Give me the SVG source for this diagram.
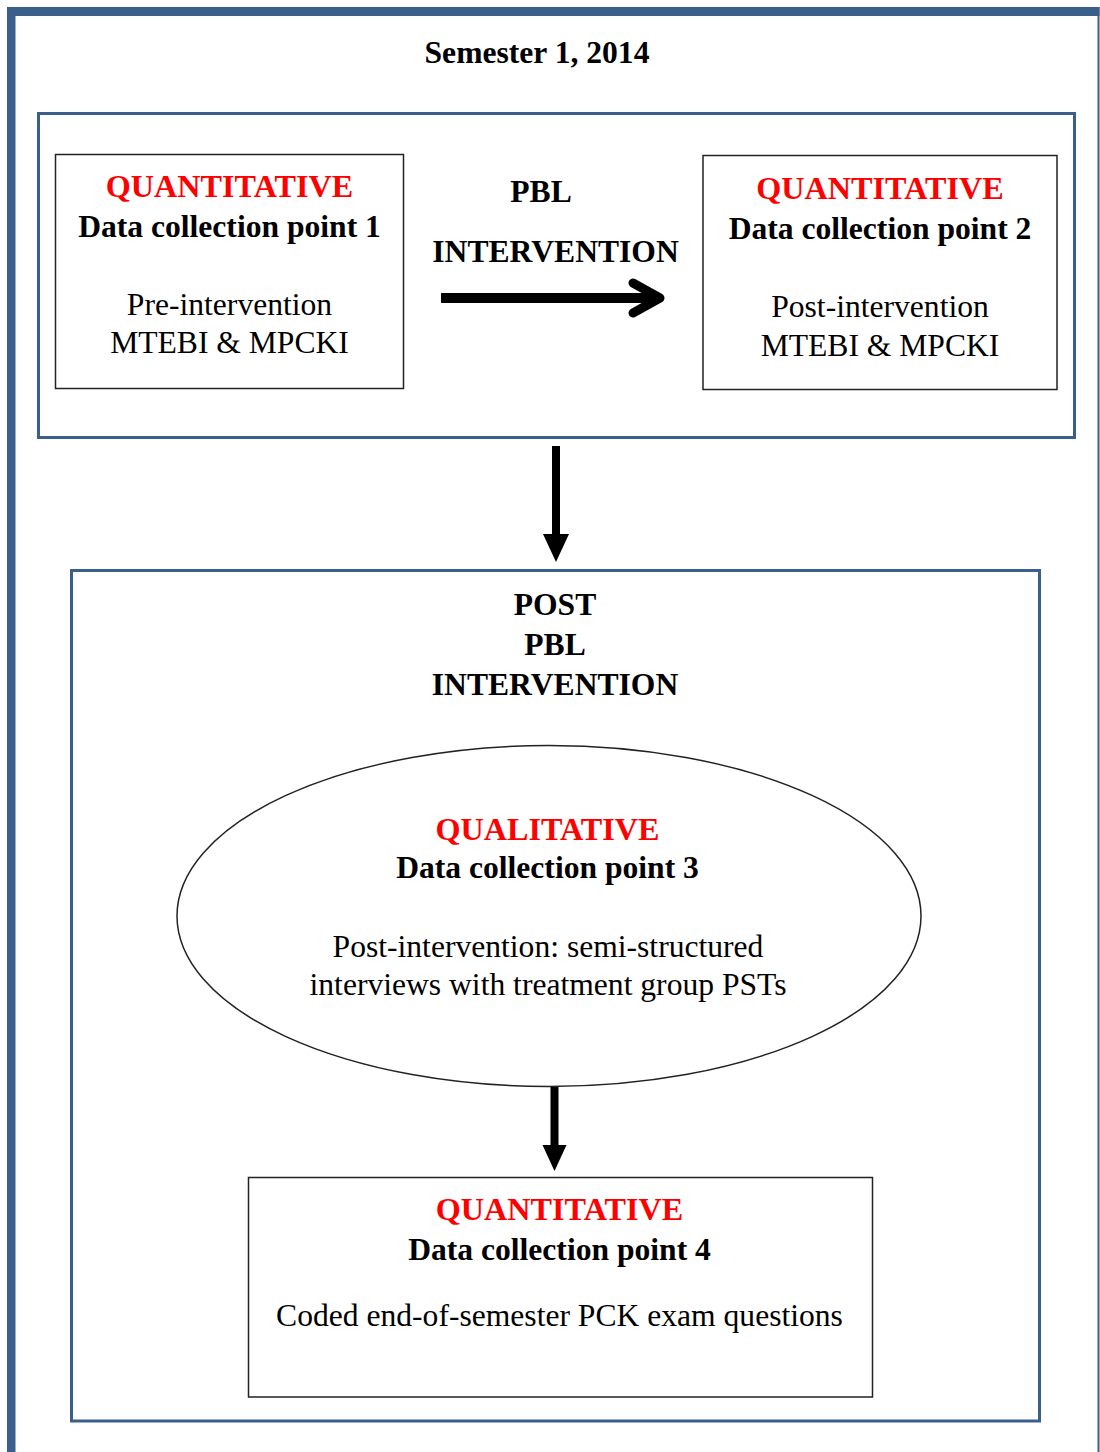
<svg xmlns="http://www.w3.org/2000/svg" width="1100" height="1452" viewBox="0 0 1100 1452">
<style>
.t{font-family:"Liberation Serif","Times New Roman",serif;font-size:31.6px;text-anchor:middle;fill:#000}
.b{font-weight:bold}
.r{fill:#ff0000;font-weight:bold;font-size:32.2px}
.frame{fill:none;stroke:#3a5f8b;stroke-width:3}
.box{fill:#fff;stroke:#222;stroke-width:1.5}
</style>
<rect width="1100" height="1452" fill="#fff"/>
<g id="outer-frame">
<rect x="7" y="7" width="8.5" height="1445" fill="#3a5f8b"/>
<rect x="7" y="7" width="1092.5" height="9" fill="#3a5f8b"/>
<rect x="1097.5" y="7" width="2" height="1445" fill="#3a5f8b"/>
<text class="t b" x="537" y="63">Semester 1, 2014</text>
</g>
<g id="pre-group">
<rect class="frame" x="38.5" y="113.5" width="1036" height="324"/>
</g>
<g id="node1">
<rect class="box" x="55.5" y="154.5" width="348" height="234"/>
<text class="t r" x="229.5" y="197">QUANTITATIVE</text>
<text class="t b" x="229.5" y="237">Data collection point 1</text>
<text class="t" x="229.5" y="315">Pre-intervention</text>
<text class="t" x="229.5" y="353">MTEBI &amp; MPCKI</text>
</g>
<g id="pbl-label">
<text class="t b" x="541" y="202">PBL</text>
<text class="t b" x="555.5" y="262">INTERVENTION</text>
</g>
<g id="node2">
<rect class="box" x="703" y="155.5" width="354" height="234"/>
<text class="t r" x="880" y="199">QUANTITATIVE</text>
<text class="t b" x="880" y="239">Data collection point 2</text>
<text class="t" x="880" y="317">Post-intervention</text>
<text class="t" x="880" y="356">MTEBI &amp; MPCKI</text>
</g>
<g id="post-group">
<rect class="frame" x="71.5" y="570.5" width="968" height="850.5"/>
<text class="t b" x="555" y="615">POST</text>
<text class="t b" x="555" y="655">PBL</text>
<text class="t b" x="555" y="695">INTERVENTION</text>
</g>
<g id="node3">
<ellipse cx="549" cy="916" rx="372" ry="170.5" fill="#fff" stroke="#222" stroke-width="1.5"/>
<text class="t r" x="547.5" y="840">QUALITATIVE</text>
<text class="t b" x="547.5" y="878">Data collection point 3</text>
<text class="t" x="548" y="957">Post-intervention: semi-structured</text>
<text class="t" x="548" y="995">interviews with treatment group PSTs</text>
</g>
<g id="node4">
<rect class="box" x="248.5" y="1177.5" width="624" height="219.5"/>
<text class="t r" x="559.5" y="1220">QUANTITATIVE</text>
<text class="t b" x="559.5" y="1260">Data collection point 4</text>
<text class="t" x="559.5" y="1326">Coded end-of-semester PCK exam questions</text>
</g>
<g id="connectors">
<line x1="441" y1="298" x2="658" y2="298" stroke="#000" stroke-width="10"/>
<polyline points="633,283 660,298 633,313" fill="none" stroke="#000" stroke-width="9" stroke-linecap="round" stroke-linejoin="round"/>
<line x1="556" y1="446" x2="556" y2="536" stroke="#000" stroke-width="8"/>
<path d="M543,534 L569,534 L556,562 Z" fill="#000"/>
<line x1="554.5" y1="1087" x2="554.5" y2="1147" stroke="#000" stroke-width="8"/>
<path d="M542.5,1145 L566.5,1145 L554.5,1171 Z" fill="#000"/>
</g>
</svg>
